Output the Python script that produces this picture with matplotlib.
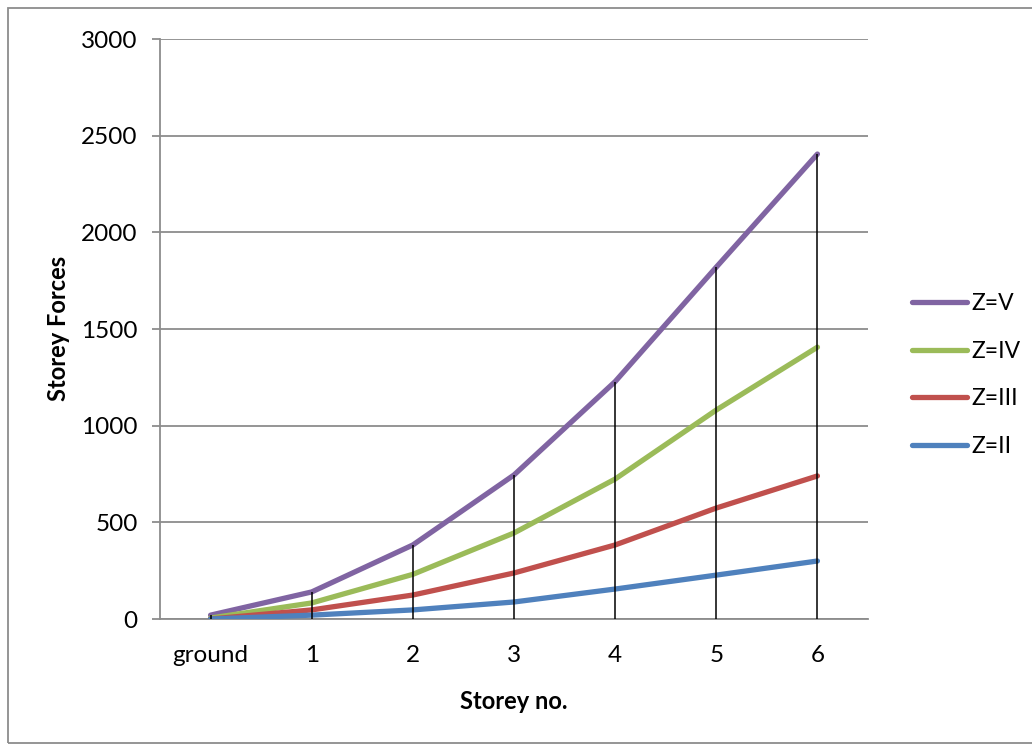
import numpy as np
import matplotlib.pyplot as plt
from matplotlib.patches import Rectangle

plt.rcParams['font.family'] = ['Lato', 'DejaVu Sans']

storeys = ['ground', '1', '2', '3', '4', '5', '6']
zone_v = [20, 140, 383, 745, 1228, 1820, 2405]
zone_iv = [5, 83, 231, 445, 724, 1081, 1406]
zone_iii = [0, 47, 124, 238, 383, 574, 740]
zone_ii = [0, 20, 47, 88, 155, 227, 300]

series = [('Z=V', zone_v, '#8064A2'),
          ('Z=IV', zone_iv, '#9BBB59'),
          ('Z=III', zone_iii, '#C0504D'),
          ('Z=II', zone_ii, '#4F81BD')]

grid_col = '#8c8c8c'

fig = plt.figure(figsize=(10.32, 7.45), dpi=100)
ax = fig.add_axes([160/1032, 1 - 619/745, 708/1032, 580/745])

x = np.arange(len(storeys))
for name, vals, col in series:
    ax.plot(x, vals, color=col, lw=3.8, solid_capstyle='round', label=name, zorder=3)

# drop lines from the top series down to the axis
top = np.max([s[1] for s in series], axis=0)
ax.vlines(x, 0, top, color='black', lw=1.1, zorder=4)

ax.set_xlim(-0.5, len(storeys) - 0.5)
ax.set_ylim(0, 3000)
ax.set_yticks(np.arange(0, 3001, 500))
ax.set_xticks(x)
ax.set_xticklabels(storeys)
ax.yaxis.grid(True, color=grid_col, lw=1.3)
ax.set_axisbelow(True)

for side in ['top', 'right']:
    ax.spines[side].set_visible(False)
for side in ['left', 'bottom']:
    ax.spines[side].set_color(grid_col)
    ax.spines[side].set_linewidth(1.3)

ax.tick_params(axis='y', length=6, width=1.3, color=grid_col, labelsize=17.5, pad=10)
ax.tick_params(axis='x', length=0, labelsize=17.5, pad=19)

ax.set_xlabel('Storey no.', fontsize=17, fontweight='bold', labelpad=17)
fig.text(58/1032, 1 - 328/745, 'Storey Forces', rotation=90, ha='center', va='center',
         fontsize=17, fontweight='bold')

leg = fig.legend(loc='center left', bbox_to_anchor=(891/1032, 1 - 375/745),
                 frameon=False, fontsize=16.5, handlelength=2.4, handletextpad=0.2,
                 labelspacing=1.15)

# chart area border
fig.patches.append(Rectangle((8/1032, 1 - 743/745), 1.2, 735/745,
                             transform=fig.transFigure, fill=False,
                             edgecolor=grid_col, lw=1.3))

fig.savefig('out.png', dpi=100)
